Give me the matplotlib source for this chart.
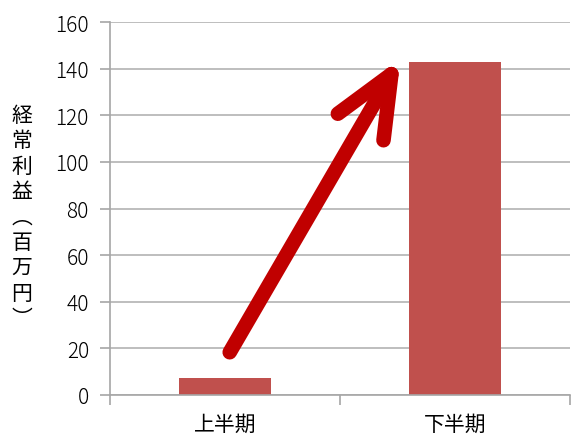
import matplotlib
matplotlib.use('Agg')
import matplotlib.pyplot as plt
from matplotlib.patches import FancyArrowPatch

plt.rcParams['font.family'] = ['Noto Sans CJK JP', 'DejaVu Sans']

categories = ['上半期', '下半期']
values = [7.3, 143]
y_ticks = [0, 20, 40, 60, 80, 100, 120, 140, 160]
y_label = '経常利益︵百万円︶'

fig = plt.figure(figsize=(5.72, 4.35), dpi=100)
ax = fig.add_axes([0.192, 0.0897, 0.8045, 0.8573])

x = range(len(categories))
ax.bar(x, values, width=0.4, color='#C0504D', zorder=2)

ax.set_xlim(-0.5, len(categories) - 0.5)
ax.set_ylim(0, 160)
ax.set_yticks(y_ticks)
ax.yaxis.grid(True, color='#B3B3B3', linewidth=1.2, zorder=0)
ax.set_axisbelow(True)

# x ticks at category boundaries, labels in the middle
ax.set_xticks([-0.5, 0.5, 1.5])
ax.set_xticklabels([])
ax.set_xticks(list(x), minor=True)
ax.set_xticklabels(categories, minor=True, fontsize=15)
ax.tick_params(axis='x', which='major', length=7, color='#A6A6A6', width=1.2)
ax.tick_params(axis='x', which='minor', length=0, pad=13)
ax.tick_params(axis='y', length=7, color='#A6A6A6', width=1.2, labelsize=15, pad=8)
for lbl in ax.get_yticklabels():
    lbl.set_fontweight('light')

for s in ['top', 'right']:
    ax.spines[s].set_visible(False)
for s in ['left', 'bottom']:
    ax.spines[s].set_color('#A6A6A6')
    ax.spines[s].set_linewidth(1.2)

fig.text(0.038, 0.5, '\n'.join(y_label), fontsize=15, ha='center', va='center',
         linespacing=1.2)

# 上昇の矢印
arrow = FancyArrowPatch((0.015, values[0] + 10), (0.77, values[1] + 2.5),
                        arrowstyle='->,head_length=44,head_width=19',
                        mutation_scale=1, color='#C00000', lw=10.5,
                        capstyle='round', joinstyle='round', zorder=3)
ax.add_patch(arrow)

fig.savefig('out.png', dpi=100)
